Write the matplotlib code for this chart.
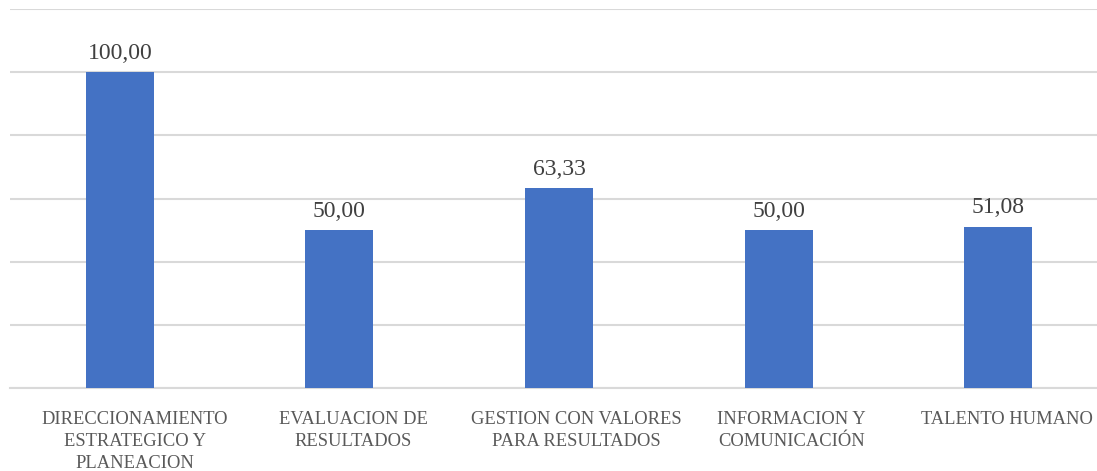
import matplotlib
matplotlib.use("Agg")
import matplotlib.pyplot as plt
import matplotlib.transforms as mtransforms

categories = ["DIRECCIONAMIENTO\nESTRATEGICO Y\nPLANEACION",
              "EVALUACION DE\nRESULTADOS",
              "GESTION CON VALORES\nPARA RESULTADOS",
              "INFORMACION Y\nCOMUNICACIÓN",
              "TALENTO HUMANO"]
values = [100.00, 50.00, 63.33, 50.00, 51.08]
value_labels = ["100,00", "50,00", "63,33", "50,00", "51,08"]
yticks = [0, 20, 40, 60, 80, 100, 120]

plt.rcParams['font.family'] = ['Liberation Serif', 'DejaVu Serif']

fig = plt.figure(figsize=(10.97, 4.71), dpi=100)
ax = fig.add_axes([10/1097, 83/471, 1098/1097, 379/471])

x = list(range(len(categories)))
bars = ax.bar(x, values, width=0.31, color='#4472C4', zorder=3)
ax.set_xlim(-0.5, len(categories) - 0.5)
ax.set_ylim(0, 120)
ax.set_yticks(yticks)
ax.yaxis.grid(True, color='#d9d9d9', linewidth=1.5, zorder=0)
ax.tick_params(axis='y', left=False, labelleft=False)
ax.tick_params(axis='x', bottom=False, pad=13)
ax.set_xticks(x)
ax.set_xticklabels(categories, fontsize=13.3, color='#595959', linespacing=1.38)
label_shift_px = [15, 14, 17, 13, 9]
for lbl, px in zip(ax.get_xticklabels(), label_shift_px):
    shift = mtransforms.ScaledTranslation(px / 100, 0, fig.dpi_scale_trans)
    lbl.set_transform(lbl.get_transform() + shift)
for s in ['top', 'right', 'left']:
    ax.spines[s].set_visible(False)
ax.spines['bottom'].set_color('#d9d9d9')
ax.spines['bottom'].set_linewidth(1.5)

for b, lab in zip(bars, value_labels):
    ax.annotate(lab, (b.get_x() + b.get_width() / 2, b.get_height()),
                xytext=(0, 6), textcoords='offset points',
                ha='center', va='bottom', fontsize=17, color='#404040')

fig.savefig("out.png", dpi=100)
